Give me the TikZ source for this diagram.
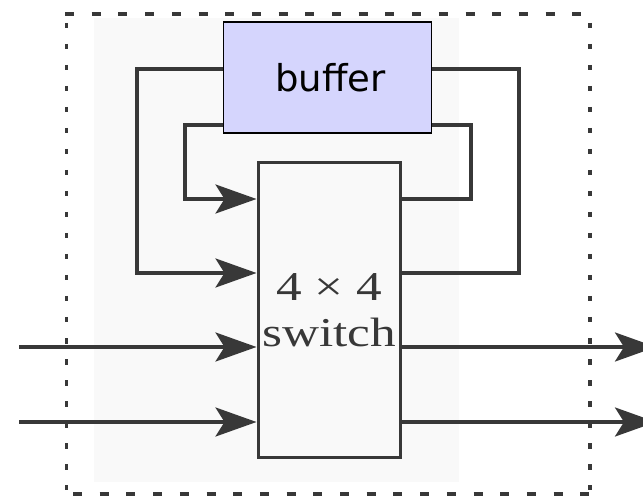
\documentclass[tikz,border=0pt]{standalone}
\usepackage{fontspec}
\usepackage{xcolor}
\usetikzlibrary{arrows,shapes,positioning,fit,arrows.meta,backgrounds,calc}
\newfontfamily\buffont{DejaVu Sans}
\newfontfamily\swfont[FakeStretch=1.25]{Liberation Serif}
\definecolor{ink}{HTML}{383838}
\definecolor{bufblue}{HTML}{D5D5FD}

\begin{document}
\begin{tikzpicture}[x=1pt,y=-1pt,
  wire/.style={draw=ink,line width=3.2pt},
  flow/.style={wire,-{Stealth[length=41pt,width=29pt,inset=9pt]}},
  hdots/.style={draw=ink,line width=3.6pt,dash pattern=on 9pt off 17.7pt},
  vdots/.style={draw=ink,line width=3.2pt,dash pattern=on 5.5pt off 15.5pt}]
\useasboundingbox (0,0) rectangle (643,497);
\fill[black!2.5] (94,18) rectangle (459,482);

\node[draw=ink,line width=3pt,minimum width=142pt,minimum height=295pt,align=center,
  text=ink,font={\swfont\fontsize{41}{46}\selectfont}] (sw) at (329,310) {4 × 4\\switch};
\node[draw=black,line width=1.5pt,fill=bufblue,minimum width=208pt,minimum height=111pt,
  font={\buffont\fontsize{37}{44}\selectfont}] (buf) at (327.5,77.5) {\hspace{6pt}buffer};

% loop corners
\coordinate (outTL) at (137,69);
\coordinate (outBL) at (137,273);
\coordinate (outTR) at (519,69);
\coordinate (outBR) at (519,273);
\coordinate (inTL) at (185,125);
\coordinate (inBL) at (185,199);
\coordinate (inTR) at (471,125);
\coordinate (inBR) at (471,199);

% ports
\coordinate (in1) at (19,347);
\coordinate (in2) at (19,422);
\coordinate (out1) at (656,347);
\coordinate (out2) at (656,422);

% feedback through the buffer
\draw[wire] (sw.east |- outBR) -- (outBR) -- (outTR) -- (buf.east |- outTR);
\draw[flow] (buf.west |- outTL) -- (outTL) -- (outBL) -- (sw.west |- outBL);
\draw[wire] (sw.east |- inBR) -- (inBR) -- (inTR) -- (buf.east |- inTR);
\draw[flow] (buf.west |- inTL) -- (inTL) -- (inBL) -- (sw.west |- inBL);

% inputs and outputs
\draw[flow] (in1) -- (sw.west |- in1);
\draw[flow] (in2) -- (sw.west |- in2);
\draw[flow] (sw.east |- out1) -- (out1);
\draw[flow] (sw.east |- out2) -- (out2);

% dotted frame
\draw[hdots] (65,14) -- (590,14);
\draw[hdots] (73,494) -- (590,494);
\draw[vdots] (66.7,23) -- (66.7,490);
\draw[vdots] (590,23) -- (590,490);
\end{tikzpicture}
\end{document}
